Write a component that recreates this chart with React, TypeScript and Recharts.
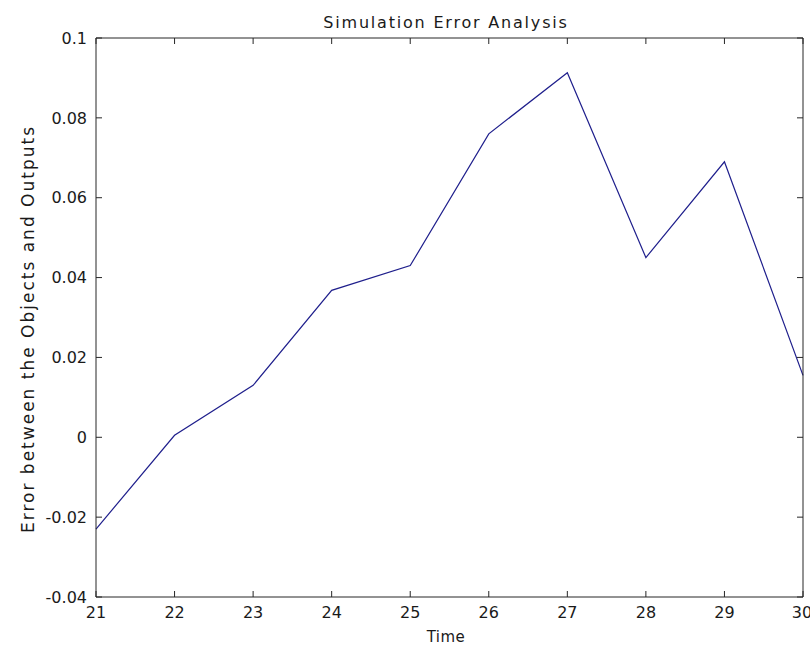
import React from 'react';
import { LineChart, Line, XAxis, YAxis, Label } from 'recharts';

const times = [21, 22, 23, 24, 25, 26, 27, 28, 29, 30];
const errors = [-0.023, 0.0005, 0.013, 0.0368, 0.043, 0.076, 0.0913, 0.045, 0.069, 0.0155];
const xTicks = [21, 22, 23, 24, 25, 26, 27, 28, 29, 30];
const yTicks = [-0.04, -0.02, 0, 0.02, 0.04, 0.06, 0.08, 0.1];

const data = times.map((t, i) => ({ time: t, error: errors[i] }));

const FONT = "'DejaVu Sans', sans-serif";
const AXIS = '#262626';
const INK = '#1a1a1a';
const TICK = 6; // tick length
const fmt = (v: number) => String(parseFloat(v.toFixed(2)));
const noLabel = () => <g />;

// MATLAB-style box: labelled axes on bottom/left, inward tick marks on all four sides
const App: React.FC = () => {
  return (
    <div style={{ position: 'absolute', left: 0, top: 0, width: 810, height: 646, background: '#fff' }}>
      <LineChart
        width={810}
        height={646}
        data={data}
        margin={{ top: 38, right: 7, bottom: 0, left: 0 }}
        style={{ fontFamily: FONT }}
      >
        <XAxis
          xAxisId="b"
          dataKey="time"
          type="number"
          domain={[21, 30]}
          ticks={xTicks}
          height={49}
          tickSize={TICK}
          tickMargin={4}
          tickLine={{ stroke: AXIS, transform: `translate(0, -${TICK})` }}
          stroke={AXIS}
          tick={{ fill: INK, fontSize: 16 }}
        >
          <Label
            content={() => (
              <text x={446} y={642} textAnchor="middle" fontSize={15} fill={INK} fontFamily={FONT} letterSpacing={0.5}>
                Time
              </text>
            )}
          />
        </XAxis>
        <XAxis xAxisId="t" dataKey="time" type="number" domain={[21, 30]} ticks={xTicks}
          orientation="top" mirror height={1} tick={noLabel} tickSize={TICK} stroke={AXIS} />
        <YAxis
          yAxisId="l"
          type="number"
          domain={[-0.04, 0.1]}
          ticks={yTicks}
          width={96}
          tickSize={TICK}
          tickMargin={3}
          tickLine={{ stroke: AXIS, transform: `translate(${TICK}, 0)` }}
          tickFormatter={fmt}
          stroke={AXIS}
          tick={{ fill: INK, fontSize: 16 }}
        >
          <Label
            content={() => (
              <g>
                <text x={446} y={28} textAnchor="middle" fontSize={16} fill={INK} fontFamily={FONT} letterSpacing={1.8}>
                  Simulation Error Analysis
                </text>
                <text x={34} y={329} textAnchor="middle" fontSize={17} fill={INK} fontFamily={FONT}
                  letterSpacing={2} transform="rotate(-90, 34, 329)">
                  Error between the Objects and Outputs
                </text>
              </g>
            )}
          />
        </YAxis>
        <YAxis yAxisId="r" type="number" domain={[-0.04, 0.1]} ticks={yTicks}
          orientation="right" mirror width={1} tick={noLabel} tickSize={TICK} stroke={AXIS} />
        <Line xAxisId="b" yAxisId="l" type="linear" dataKey="error" stroke="#1f1f8c" strokeWidth={1.2}
          dot={false} isAnimationActive={false} />
        <Line xAxisId="t" yAxisId="r" type="linear" dataKey="error" stroke="none"
          dot={false} activeDot={false} isAnimationActive={false} legendType="none" />
      </LineChart>
    </div>
  );
};

export default App;
